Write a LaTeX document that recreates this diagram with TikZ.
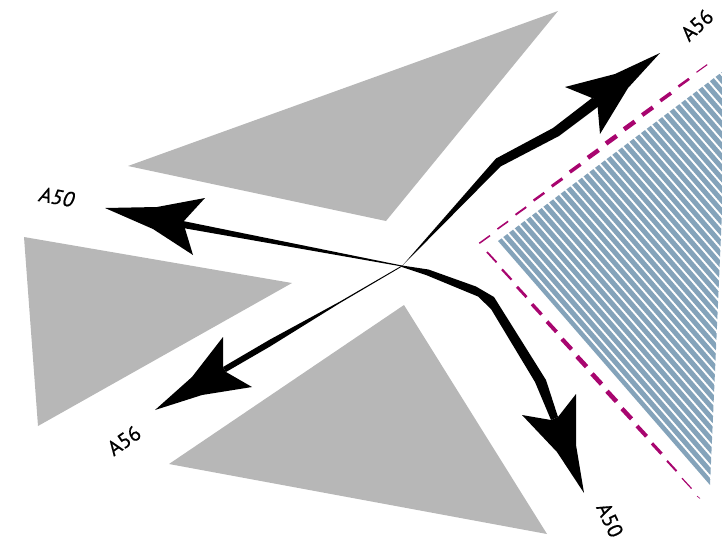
\documentclass[tikz,border=0pt]{standalone}
\usepackage{fontspec}
\setmainfont[FakeBold=0.6]{PT Sans}
\definecolor{zonegray}{HTML}{B7B7B7}
\definecolor{stripeblue}{HTML}{84A3BA}
\definecolor{dashmag}{HTML}{A8056F}
\tikzset{
  zone/.style={fill=zonegray,draw=none},
  arrowfill/.style={fill=black,draw=none},
  roadlabel/.style={font=\fontsize{21}{21}\selectfont,inner sep=0pt,text=black},
  limitdash/.style={draw=dashmag}
}
\begin{document}
\begin{tikzpicture}[x=1pt,y=-1pt]
\useasboundingbox (0,0) rectangle (722,542);
% grey triangles
\fill[zone] (558,11) -- (128,166) -- (386,221) -- cycle;
\fill[zone] (24,237) -- (292,283) -- (38,426) -- cycle;
\fill[zone] (404,305) -- (547,534) -- (169,464) -- cycle;
% hatched zone
\begin{scope}
\clip (498,241) -- (722,72) -- (722,212) -- (710,485) -- cycle;
\foreach \k in {0,...,100}{
  \draw[stripeblue,line width=5pt] ({-260+9.5*\k},0) -- ++(520,598);
}
\end{scope}
% dashed limit: upper branch
\foreach \k/\w in {0/1.5,1/1.6,2/1.9,3/2.4,4/3,5/3.6,6/4.4,7/4.6,8/4.6,9/4.2,10/3.6,11/2.6,12/1.1}{
  \draw[limitdash,line width=\w pt] ({479.3+18.1*\k},{243.3-14.25*\k}) -- ++(10.7,-7.7);
}
% dashed limit: lower branch
\foreach \k/\w in {0/1.8,1/2.2,2/2.8,3/3.4,4/3.8,5/4.2,6/4.6,7/4.6,8/4.6,9/4.4,10/4,11/3.2,12/2,13/1.2}{
  \draw[limitdash,line width=\w pt] ({487+15*\k},{252+17.4*\k}) -- ++(9.5,10.3);
}
\draw[limitdash,line width=.6pt] (697,496) -- (700,498.5);
% arrows: NE
\fill[arrowfill] (402,266) -- (496,158.5) -- (553,128) -- (592,98) -- (601,100) -- (599,106) -- (559,136) -- (500.5,166.5) -- cycle;
\fill[arrowfill] (660,53) -- (615,74) -- (565,87) -- (597,100) -- (600,134) -- (628,88) -- cycle;
% arrows: W
\fill[arrowfill] (402,265.5) -- (183,221) -- (183,228) -- (402,266.5) -- cycle;
\fill[arrowfill] (105,208) -- (157,207) -- (205,198) -- (183,222) -- (193,255) -- (153,229) -- cycle;
% arrows: SE
\fill[arrowfill] (402,265.5) -- (428.5,269.5) -- (476,286.5) -- (494,297) -- (546,380) -- (558,417) -- (551,420) -- (535,382) -- (491,309) -- (478,296.5) -- (426,275) -- (402,267) -- cycle;
\fill[arrowfill] (584,493) -- (576,445) -- (576,394) -- (558,417) -- (551,420) -- (522,415) -- (557,452) -- cycle;
% arrows: SW
\fill[arrowfill] (402,265.5) -- (340,301.5) -- (270,339.5) -- (223,367) -- (226,372) -- (270,346.5) -- (340,303) -- (402,266.5) -- cycle;
\fill[arrowfill] (155,410) -- (202,395) -- (252,387) -- (226,372) -- (223,367) -- (223,337) -- (192,377) -- cycle;
% labels
\node[roadlabel,rotate=43] (lne) at (697,25) {A56};
\node[roadlabel,rotate=-10,xslant=.2] (lw) at (57.5,197) {A50};
\node[roadlabel,rotate=35] (lsw) at (124,440.5) {A56};
\node[roadlabel,rotate=-65] (lse) at (610,520) {A50};
\end{tikzpicture}
\end{document}
